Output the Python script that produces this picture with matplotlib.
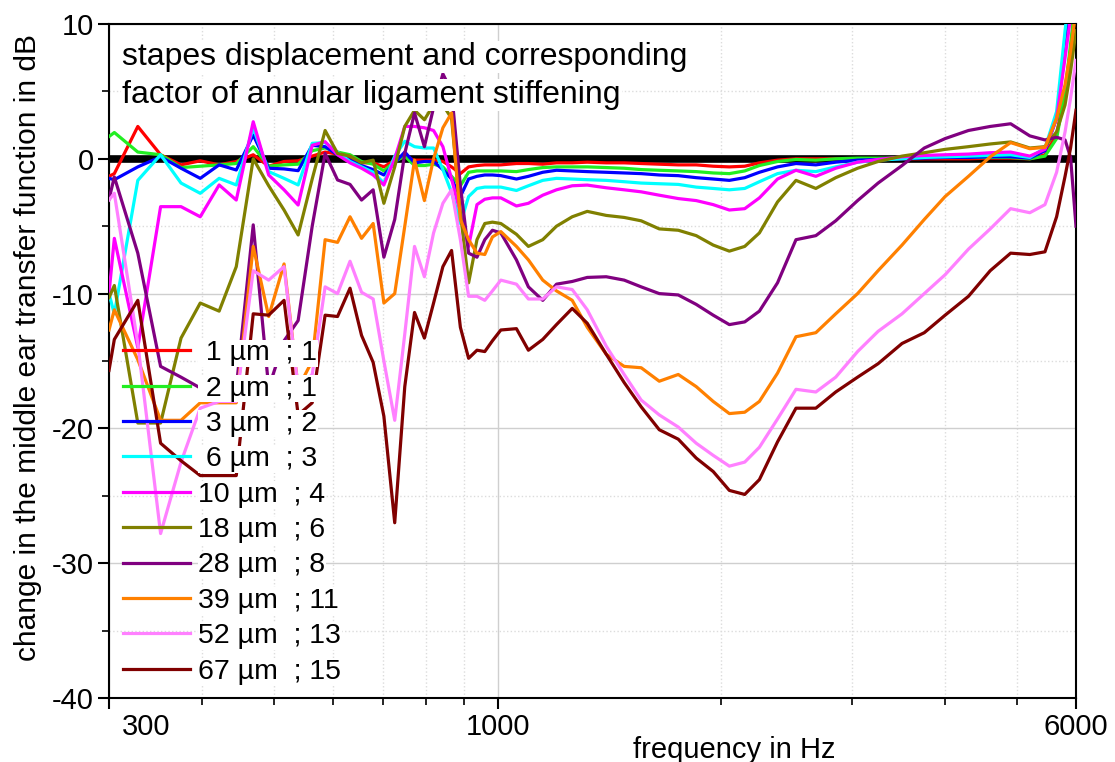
import matplotlib
matplotlib.use("Agg")
import matplotlib.pyplot as plt
import matplotlib.transforms as mtransforms
from matplotlib import font_manager
from matplotlib.ticker import FixedLocator, NullFormatter

plt.rcParams['axes.unicode_minus'] = False
plt.rcParams['font.family'] = ['Liberation Sans', 'DejaVu Sans']
names = {f.name for f in font_manager.fontManager.ttflist}
narrow = 'Liberation Sans Narrow' if 'Liberation Sans Narrow' in names else 'Liberation Sans'

# frequencies in Hz (FFT bins below 1 kHz, coarser read-off above)
freq = [300, 305, 328, 352, 375, 398, 422, 445, 469, 492, 516, 539, 563, 586, 609, 633,
        656, 680, 703, 727, 750, 773, 797, 820, 844, 867, 891, 914, 938, 961, 984,
        1010, 1060, 1100, 1150, 1200, 1260, 1320, 1400, 1480, 1560, 1650, 1750, 1850,
        1950, 2050, 2150, 2250, 2380, 2520, 2680, 2850, 3050, 3250, 3500, 3750, 4000,
        4300, 4600, 4900, 5200, 5450, 5650, 5800, 5900, 6000]

# change of the transfer function in dB
d1 = [-1.3, -1.1, 2.4, 0.3, -0.45, -0.15, -0.45, -0.2, 0.3, -0.55, -0.2, -0.15, 0.2, 0.5, 0.35, 0.1,
      -0.3, -0.3, -0.6, -0.1, 0.15, -0.1, -0.1, -0.1, -0.2, -0.6, -1.1, -0.6, -0.5, -0.45, -0.45,
      -0.45, -0.35, -0.35, -0.4, -0.3, -0.3, -0.25, -0.3, -0.3, -0.35, -0.4, -0.45, -0.45,
      -0.55, -0.6, -0.55, -0.3, -0.1, 0.0, 0.0, 0.0, 0.0, 0.0, 0.0, 0.0, 0.0,
      0.0, 0.05, 0.05, 0.0, 0.3, 1.8, 5.0, 8.0, 12.0]
d2 = [1.65, 1.95, 0.5, 0.3, -0.65, -0.55, -0.45, -0.35, 0.9, -0.55, -0.45, -0.4, 0.6, 0.8, 0.5, 0.3,
      -0.2, -0.4, -0.9, -0.2, 0.2, -0.5, -0.5, -0.4, -0.6, -1.3, -2.0, -1.0, -0.9, -0.9, -0.9,
      -0.9, -0.95, -0.8, -0.65, -0.6, -0.6, -0.6, -0.65, -0.7, -0.8, -0.85, -0.9, -0.95,
      -1.05, -1.1, -0.9, -0.5, -0.2, -0.05, -0.1, 0.0, 0.05, 0.05, 0.05, 0.1, 0.1,
      0.1, 0.1, 0.1, 0.0, 0.2, 1.5, 5.0, 8.5, 12.0]
d3 = [-1.45, -1.55, -0.6, 0.15, -0.7, -1.45, -0.45, -0.83, 1.77, -0.7, -0.75, -0.88, 1.0, 0.9, 0.3, -0.1,
      -0.5, -0.8, -1.2, -0.3, 0.5, -0.3, -0.2, -0.2, -0.8, -1.5, -2.8, -1.5, -1.3, -1.2, -1.2,
      -1.25, -1.5, -1.3, -1.0, -0.85, -0.9, -0.95, -1.0, -1.05, -1.1, -1.2, -1.25, -1.4,
      -1.5, -1.6, -1.4, -1.0, -0.6, -0.35, -0.45, -0.25, -0.1, -0.05, 0.0, 0.05, 0.1,
      0.1, 0.15, 0.15, 0.05, 0.6, 3.0, 8.0, 12.0, 14.0]
d6 = [-10.0, -11.5, -1.6, 0.3, -1.8, -2.56, -1.45, -1.94, 2.3, -0.95, -1.45, -1.94, 1.15, 1.2, 0.5, -0.2,
      -0.6, -1.0, -1.8, 0.2, 1.3, 0.9, 0.8, 0.8, -0.8, -2.5, -4.8, -2.8, -2.2, -2.1, -2.1,
      -2.1, -2.35, -2.0, -1.6, -1.45, -1.5, -1.55, -1.6, -1.7, -1.8, -1.85, -1.9, -2.1,
      -2.2, -2.3, -2.2, -1.7, -1.1, -0.85, -0.95, -0.6, -0.25, -0.1, 0.0, 0.1, 0.15,
      0.2, 0.25, 0.3, 0.1, 0.8, 3.5, 9.5, 13.0, 15.0]
d10 = [-10.0, -5.9, -14.0, -3.55, -3.55, -4.3, -1.94, -3.06, 2.75, -1.2, -2.3, -3.43, 1.0, 1.27, 0.3, -0.3,
       -0.7, -1.2, -1.94, 0.0, 2.4, 2.4, 2.3, 2.1, 0.9, -1.5, -4.0, -6.5, -3.4, -3.0, -2.9,
       -2.9, -3.5, -3.3, -2.7, -2.3, -2.0, -1.95, -2.15, -2.3, -2.45, -2.7, -2.95, -3.1,
       -3.4, -3.8, -3.7, -2.9, -1.5, -0.85, -1.3, -0.7, -0.25, -0.05, 0.15, 0.25, 0.3,
       0.35, 0.45, 0.5, 0.2, 0.7, 3.0, 7.5, 10.5, 13.0]
d18 = [-10.3, -9.4, -19.6, -19.6, -13.3, -10.7, -11.3, -8.0, 0.0, -2.0, -3.8, -5.65, -1.5, 2.1, 0.4, 0.2,
       -0.3, -0.1, -3.3, -0.6, 2.4, 3.6, 2.9, 4.0, 4.0, 3.0, -4.0, -9.2, -6.0, -4.8, -4.7,
       -4.8, -5.6, -6.5, -6.0, -5.0, -4.3, -3.9, -4.2, -4.35, -4.6, -5.2, -5.3, -5.7,
       -6.4, -6.85, -6.5, -5.5, -3.2, -1.6, -2.2, -1.4, -0.7, -0.2, 0.2, 0.45, 0.7,
       0.9, 1.1, 1.25, 0.8, 0.9, 2.0, 4.0, 6.5, 9.5]
d28 = [-3.0, -1.35, -7.0, -15.4, -16.2, -17.0, -17.5, -17.0, -4.9, -17.0, -13.5, -12.0, -5.0, 0.4, -1.57, -1.9,
       -3.06, -2.3, -7.3, -4.5, 0.4, 3.4, 0.9, 3.8, 6.3, 5.0, -2.0, -7.0, -7.3, -6.0, -5.3,
       -5.5, -7.5, -9.5, -10.5, -9.3, -9.1, -8.8, -8.75, -9.0, -9.5, -10.0, -10.1, -10.8,
       -11.6, -12.3, -12.1, -11.3, -9.2, -6.0, -5.7, -4.6, -3.1, -1.8, -0.5, 0.8, 1.5,
       2.1, 2.4, 2.6, 1.7, 1.4, 1.6, 1.4, 0.1, -5.0]
d39 = [-12.7, -11.2, -14.9, -19.4, -19.4, -18.1, -18.1, -18.1, -6.5, -11.7, -7.8, -17.0, -15.0, -6.0, -6.2, -4.3,
       -5.9, -4.8, -10.7, -10.0, -5.0, -0.1, -3.1, 0.0, 2.3, 3.4, -4.5, -6.0, -7.0, -7.1, -5.8,
       -5.4, -6.5, -7.5, -9.0, -9.8, -10.5, -12.5, -14.5, -15.4, -15.5, -16.5, -16.0, -16.9,
       -18.0, -18.9, -18.8, -18.0, -15.9, -13.2, -12.9, -11.5, -10.0, -8.3, -6.4, -4.5, -2.8,
       -1.3, 0.15, 1.2, 0.75, 0.85, 3.0, 5.5, 8.0, 11.0]
d52 = [-3.06, -2.56, -13.7, -27.8, -22.5, -18.5, -18.0, -18.0, -8.3, -9.0, -8.0, -17.0, -16.0, -9.5, -10.0, -7.6,
       -9.9, -10.4, -15.0, -19.4, -13.0, -6.5, -8.75, -5.5, -3.3, -2.3, -6.0, -10.2, -10.2, -10.5, -9.8,
       -9.0, -9.3, -10.4, -10.4, -9.5, -9.7, -11.2, -13.9, -16.0, -17.9, -19.0, -19.9, -21.1,
       -22.0, -22.8, -22.5, -21.4, -19.3, -17.1, -17.3, -16.2, -14.3, -12.8, -11.5, -10.0, -8.6,
       -6.7, -5.2, -3.7, -4.0, -3.4, -1.0, 2.0, 4.5, 7.3]
d67 = [-15.7, -13.4, -10.5, -21.1, -22.4, -23.5, -23.5, -23.5, -11.5, -11.6, -10.5, -19.0, -18.1, -11.6, -11.7, -9.6,
       -13.1, -15.1, -19.1, -27.0, -16.9, -11.4, -13.3, -10.7, -8.0, -6.8, -12.5, -14.8, -14.2, -14.3, -13.5,
       -12.7, -12.6, -14.2, -13.4, -12.3, -11.1, -12.2, -14.5, -16.6, -18.4, -20.1, -20.8, -22.2,
       -23.2, -24.6, -24.9, -23.8, -21.0, -18.5, -18.5, -17.3, -16.2, -15.2, -13.7, -12.9, -11.6,
       -10.2, -8.3, -7.0, -7.1, -6.9, -4.3, -1.3, 0.8, 3.6]

series = [d1, d2, d3, d6, d10, d18, d28, d39, d52, d67]
labels = [" 1 µm  ; 1", " 2 µm  ; 1", " 3 µm  ; 2", " 6 µm  ; 3", "10 µm  ; 4",
          "18 µm  ; 6", "28 µm  ; 8", "39 µm  ; 11", "52 µm  ; 13", "67 µm  ; 15"]
colors = ['#ff0000', '#22ee22', '#0000ff', '#00ffff', '#ff00ff',
          '#808000', '#800080', '#ff8000', '#ff80ff', '#800000']

fig = plt.figure(figsize=(11.15, 7.62), dpi=100)
ax = fig.add_axes([109 / 1115, 64 / 762, 967 / 1115, 674 / 762])

# reference line at 0 dB
ax.plot([300, 6000], [0, 0], color='black', lw=5.5, solid_capstyle='butt', zorder=2)
for vals, col, lab in zip(series, colors, labels):
    ax.plot(freq, vals, color=col, lw=2.3, label=lab, zorder=3)

ax.set_xscale('log')
ax.set_xlim(300, 6000)
ax.set_ylim(-40, 10)
ax.set_xticks([300, 1000, 6000])
ax.set_xticklabels(['300', '1000', '6000'])
ax.xaxis.set_minor_locator(FixedLocator([400, 500, 600, 700, 800, 900, 2000, 3000, 4000, 5000]))
ax.xaxis.set_minor_formatter(NullFormatter())
ax.set_yticks(range(-40, 11, 10))
ax.yaxis.set_minor_locator(FixedLocator([-35, -25, -15, -5, 5]))

ax.tick_params(which='major', direction='out', length=8, width=1.5, pad=3)
ax.tick_params(which='minor', direction='out', length=5, width=1.2)
for lab in ax.get_xticklabels() + ax.get_yticklabels():
    lab.set_fontfamily(narrow)
    lab.set_fontsize(21)
# first x label sits to the right of its tick, as in the original
first = ax.get_xticklabels()[0]
first.set_transform(first.get_transform() + mtransforms.ScaledTranslation(0.37, 0, fig.dpi_scale_trans))
for sp in ax.spines.values():
    sp.set_linewidth(1.5)

ax.set_axisbelow(True)
ax.grid(True, which='major', color='#cfcfcf', lw=1)
ax.grid(True, which='minor', color='#dcdcdc', ls=':', lw=1)

ax.set_xlabel('frequency in Hz', fontfamily=narrow, fontsize=21)
ax.xaxis.set_label_coords(0.647, -0.056)
ax.set_ylabel('change in the middle ear transfer function in dB', fontsize=21.5)
ax.yaxis.set_label_coords(-0.069, 0.52)

box = dict(facecolor='white', edgecolor='none', pad=1)
ax.text(0.0134, 0.939, 'stapes displacement and corresponding', transform=ax.transAxes,
        fontsize=23, va='baseline', bbox=box, zorder=5)
ax.text(0.0134, 0.883, 'factor of annular ligament stiffening', transform=ax.transAxes,
        fontsize=23, va='baseline', bbox=box, zorder=5)

leg = ax.legend(loc='upper left', bbox_to_anchor=(0.0145, 0.531), frameon=False, fontsize=20.5,
                handlelength=2.35, handletextpad=0.3, labelspacing=0.33, borderpad=0,
                borderaxespad=0)
for t in leg.get_texts():
    t.set_bbox(dict(facecolor='white', edgecolor='none', pad=0.5))
for h in leg.get_lines():
    h.set_linewidth(2.3)

fig.savefig('out.png', dpi=100)
